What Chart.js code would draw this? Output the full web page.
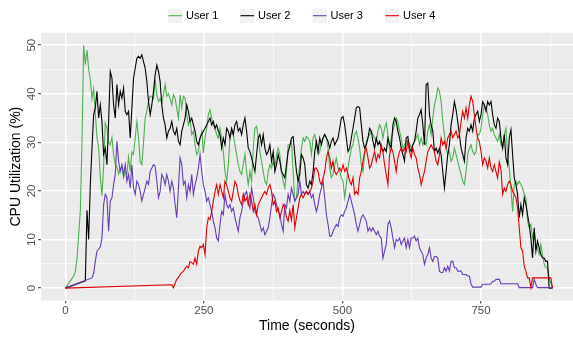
<!DOCTYPE html>
<html><head><meta charset="utf-8">
<script src="https://cdn.jsdelivr.net/npm/chart.js@4/dist/chart.umd.min.js"></script>
<style>html,body{margin:0;padding:0;background:#fff;overflow:hidden}canvas{display:block}</style>
</head><body>
<canvas id="c" width="573" height="339"></canvas>
<script>
const _ = null;
// sample times (seconds)
const times = [
0,3,6,9,12,15,18,21,24,27,
30,33,36,39,42,45,48,51,54,57,
60,63,66,69,72,75,78,81,84,87,
90,93,96,99,102,105,108,111,114,117,
120,123,126,129,132,135,138,141,144,147,
150,153,156,159,162,165,168,171,174,177,
180,183,186,189,192,195,198,201,204,207,
210,213,216,219,222,225,228,231,234,237,
240,243,246,249,252,255,258,261,264,267,
270,273,276,279,282,285,288,291,294,297,
300,303,306,309,312,315,318,321,324,327,
330,333,336,339,342,345,348,351,354,357,
360,363,366,369,372,375,378,381,384,387,
390,393,396,399,402,405,408,411,414,417,
420,423,426,429,432,435,438,441,444,447,
450,453,456,459,462,465,468,471,474,477,
480,483,486,489,492,495,498,501,504,507,
510,513,516,519,522,525,528,531,534,537,
540,543,546,549,552,555,558,561,564,567,
570,573,576,579,582,585,588,591,594,597,
600,603,606,609,612,615,618,621,624,627,
630,633,636,639,642,645,648,651,654,657,
660,663,666,669,672,675,678,681,684,687,
690,693,696,699,702,705,708,711,714,717,
720,723,726,729,732,735,738,741,744,747,
750,753,756,759,762,765,768,771,774,777,
780,783,786,789,792,795,798,801,804,807,
810,813,816,819,822,825,828,831,834,837,
840,843,846,849,852,855,858,861,864,867,
870,873,876,879];

const user1 = [
0,0.5,1,1.5,2,2.5,3.5,6,11,16,
30,50,46,49,45,43,39,41,36,31,
29,23,19,25,34,33,30,29.5,31,27.5,
25.5,25,23.5,24.5,25,22.7,24,23.5,27,24,
28,27.5,31,34.3,31,26,25.4,30,35,36.4,
38.4,39.5,39.5,39,43,39.8,38.4,39,38,39.8,
41.9,39.5,40,39,37.7,39.8,39.1,37,35,39.8,
37.1,39.5,39.1,35.7,33.6,34.7,31.6,32.3,29.5,27.5,
28.1,30.9,32.3,27.8,30.9,32.9,35.7,36.7,35,33.6,
32.9,31.6,30.9,32.9,30.9,28.1,24,22,25.4,30.9,
32.3,31.6,29.5,27.5,25.4,24,23.4,25.4,27.5,24,
21.3,24,22,28.8,32.9,33.3,30.9,28.1,26.1,24,
22,21.3,24,25.4,24.7,26.1,24.7,27.5,28.8,27.5,
24,22,20.6,24,29.5,29.5,30.2,24,17.9,18.6,
22.7,25.4,28.8,30.9,30.2,31.2,30.9,30.2,27.5,30.9,
31.6,29.5,27.5,28.1,30.2,30.9,31.6,30.9,28.8,24.7,
22.7,23.4,25.4,26.8,24.7,24,22.7,22,18.6,21.3,
24.7,26.8,28.8,29.5,31.6,32.3,30.9,28.8,25.4,24,
27.5,30.2,30.9,31.6,32.3,31.6,30.9,30.2,32.3,33.6,
32.9,30.9,32.9,34,31.6,28.8,30.9,32.3,33.6,35,
34.3,32.3,30.9,28.8,29.5,30.2,30.2,29.8,28.8,29.5,
30.2,30.9,31.6,29.5,30.9,29.5,30.2,29.5,32.3,33.6,
31.6,35,37.7,39.1,41.2,40.5,38.4,34.3,31.6,28.8,
27.5,28.1,26.1,26.8,28.8,27.5,26.1,24.7,23.4,22,
21.3,24,27.5,28.8,29.5,28.1,27.5,28.1,31.6,31.6,
32.9,35.7,37.7,37.1,35.7,33.6,32.3,32.9,31.6,30.9,
30.2,31.6,29.5,28.8,31.6,32.9,27.5,24.7,20.6,15.8,
21.3,22,21.3,22,21.3,20.6,19.3,18.6,13.8,12.4,
13.1,10.3,11.7,9,8.3,6.9,9,6.9,4.9,4.2,
4.2,2.1,1,0];

const user2 = [
0,_,_,_,_,_,_,_,_,_,
_,_,1.5,16,10,21.3,28.8,35.7,37.1,40.5,
35,37.7,34.3,27.5,28.8,25.4,34.3,44.6,43.2,37.7,
35,41.9,37.7,40.5,39.1,41.2,36.4,35.7,36.4,30.9,
37.1,43.2,45.3,47.3,47.7,47.3,48,46.6,45.3,42.5,
38.4,35.7,37.7,40.5,43.9,45.9,44.6,42.5,37.7,35,
33.6,30.9,32.3,32.9,34.3,32.3,31.6,32.9,30.2,29.5,
32.3,33.6,35,37.7,36.4,34.3,35,33.6,32.3,30.2,
29.5,30.9,31.6,32.3,32.9,33.6,34.3,35,33.6,34.3,
32.9,33.6,32.3,31.6,28.8,30.9,29.5,32.9,32.3,30.9,
32.9,31.6,33.6,34.3,32.3,32.9,31.6,33.6,35,32.3,
28.8,28.1,26.8,25.4,24,27.5,30.9,31.6,29.5,31.6,
28.8,27.5,28.1,29.5,26.1,28.1,24,25.4,27.5,26.1,
24,23.4,22.7,25.4,28.1,29.2,30.9,31.2,27.5,24,
22,23.4,27.5,26.8,25.4,21.3,20.6,22,21.3,24,
28.1,30.2,28.1,30.9,29.5,30.9,31.6,30.9,30.2,28.8,
30.2,30.9,29.5,30.2,30.9,32.9,35,35.3,33.6,30.9,
28.1,28.8,30.9,32.9,35,37.1,37.4,37.1,33.6,30.2,
28.8,29.5,30.9,32.9,32.3,30.2,28.8,30.9,29.5,30.2,
28.8,28.1,28.8,28.1,30.9,29.5,28.8,33.6,35,34.3,
32.3,30.9,28.8,27.5,26.1,30.9,31.2,28.8,28.1,29.5,
30.2,32.3,35,35.7,36.7,33.6,29.5,41.9,42.2,35.7,
33.6,32.3,28.1,28.8,27.8,28.8,27.5,24,20.6,24,
27.5,29.5,33.6,35.7,38.4,36.7,34.3,31.6,28.8,27.5,
26.1,30.9,32.9,32.3,33.6,32.3,35,35.7,36.4,34.3,
35.7,38.4,37.7,36.4,38.4,37.7,38.4,35.7,33.6,32.9,
35,34.3,30.9,28.8,31.6,26.8,25.4,30.9,32.6,27.5,
22.7,21.3,19.3,14.5,17.2,15.1,18.6,17.2,15.1,13.1,
10.3,6.2,12.4,7.6,9.7,8.3,6.9,6.2,6.2,5.5,
5.5,0,0,0];

const user3 = [
0,_,_,_,_,_,_,_,_,_,
_,_,_,_,_,_,2.1,3,5.5,7.6,
8,8.5,10.3,17.2,19.3,18.6,11.7,17.9,18.6,21.3,
23.4,30.2,26.1,24,25.4,23.4,25.4,22,23.4,20.6,
25.4,20.6,19.3,22,21.3,19.9,17.9,19.3,20.6,22,
21.3,24,24.7,25.4,25.1,22,18.6,19.9,23.4,22.7,
21.3,23.4,22,19.9,22,20.6,17.2,14.5,20.6,26.8,
25.4,21.3,22,18.6,21.3,19.9,23.4,19.3,21.3,22.7,
24.7,27.5,24,21.3,19.9,17.9,18.6,17.2,15.8,13.8,
12.4,10.3,9.7,13.1,15.8,15.1,19.3,17.2,16.5,17.2,
15.8,16.5,14.5,13.1,11.7,14.5,15.8,17.9,19.3,19.9,
17.9,16.5,20.6,18.6,15.8,15.1,14.5,13.1,11.7,12.4,
11,11.7,12.4,14.5,17.2,19.3,18.6,17.2,15.8,15.1,
13.1,11.7,17.2,16.5,19.3,17.9,20.6,19.3,17.9,18.6,
19.3,22,19.3,19.9,19.3,19.9,19.3,19.9,18.6,19.3,
17.2,15.8,17.2,19.3,20.6,22,18.6,15.1,13.1,10.7,
10.7,11.7,12.4,13.1,12.7,14.5,15.1,14.8,15.8,16.5,
17.9,19.3,17.9,16.5,15.1,13.1,11.7,13.1,14.5,15.1,
14.5,13.8,11.7,12.4,11.7,12.4,11.7,11,11.7,10.7,
10.3,6.2,7.6,9,13.1,13.8,12.4,10.3,8.3,10,
9.7,10.3,9,9.7,10.3,8.3,10,8.3,10.3,10.3,
10.7,9.7,10.3,8.3,7.6,6.9,4.9,6.2,6.9,8.3,
6.2,5.5,6.5,6.5,6.2,3.5,3.2,3.2,4.2,3.5,
4.5,3.5,5.5,5.5,4.2,4.2,3.5,3.5,3.5,2.8,
2.8,2.8,2.5,2.5,0.8,0.2,0.2,0.2,0.2,0.2,
0.2,0.8,0.8,0.8,0.8,0.8,0.9,1.4,1.4,1.8,
1.8,1.8,0.9,0.9,0.9,0.9,0.9,0.9,0.9,0.9,
0.9,0.9,0.9,0.1,0.1,0.1,0.1,0.1,0.1,0.1,
0.1,0.1,1.8,0.8,0.1,0.1,0.1,0.1,0.1,0.1,
0.1,0.1,0.1,0];

const user4 = [
0,_,_,_,_,_,_,_,_,_,
_,_,_,_,_,_,_,_,_,_,
_,_,_,_,_,_,_,_,_,_,
_,_,_,_,_,_,_,_,_,_,
_,_,_,_,_,_,_,_,_,_,
_,_,_,_,_,_,_,_,_,_,
_,_,_,_,0.7,0.1,1,1.8,2.2,2.8,
3.2,3.5,4,4.5,4.2,5.5,5.2,4.9,6.2,4.9,
7.6,8.6,8.3,9,6.9,12.4,14.5,14.1,15.8,17.9,
19.9,21.3,19.3,21.3,19.9,18.6,22,21.3,19.9,18.6,
17.9,19.9,22,21.3,19.3,17.9,17.2,19.3,17.9,18.6,
17.2,19.3,17.9,15.8,17.2,15.1,17.2,17.9,18.6,19.3,
19.9,19.3,20.6,21.3,19.9,17.2,17.9,15.8,16.5,14.5,
15.8,17.2,16.5,14.5,13.8,16,14,17.2,12.4,14.5,
16.5,18.6,19.3,18.6,19.3,19.9,19.3,19.9,20.6,22,
24.7,24.7,24,22,21.3,22.7,24,26.8,28.1,26.8,
24.7,26.1,24,23.4,24,24.7,24,25.4,24,24.7,
23.4,22,21.3,22.7,19.3,19.9,19.3,22.7,24,26.1,
28.1,28.8,26.8,24.7,25.4,26.8,28.1,26.1,27.5,26.8,
29.5,28.1,25.4,23.4,21.3,27.5,28.8,28.1,26.1,24,
26.8,28.1,28.8,28.1,28.8,28.1,30.2,28.1,26.8,28.8,
27.5,26.8,24.7,23.4,21.3,22.7,24,26.1,28.1,28.8,
29.5,28.8,28.1,26.1,25.4,27.5,30.9,29.5,30.2,28.8,
30.9,31.6,32.3,30.9,31.6,32.3,30.9,31.6,34.3,36.4,
35,37.1,35,37.7,39.5,38.4,35.7,32.9,30.9,30.2,
28.1,25.4,26.8,26.1,24.7,26.8,24.7,24,25.4,24,
22.7,26,24.5,19.3,20.6,19.9,21.3,22,21.3,19.9,
19.3,18.6,16.5,12.4,8.3,7.6,4.5,3.5,2.1,2.1,
0.1,2.1,2.1,2.1,2.1,2.1,2.1,2.1,2.1,2.1,
2.1,2.1,2.1,0];

const seriesNames = ['User 1', 'User 2', 'User 3', 'User 4'];
const seriesColors = ['#4CAF50', '#000000', '#673AB7', '#DD0000'];
const xTickLabels = [0, 250, 500, 750];
const yTickLabels = [0, 10, 20, 30, 40, 50];

const FONT = '"Liberation Sans", Arial, Helvetica, sans-serif';
Chart.defaults.font.family = FONT;

function toPoints(vals) {
  const out = [];
  vals.forEach((v, i) => { if (v !== null) out.push({ x: times[i], y: v }); });
  return out;
}
const allSeries = [user1, user2, user3, user4];
const datasets = allSeries.map((vals, i) => ({
  label: seriesNames[i],
  data: toPoints(vals),
  borderColor: seriesColors[i],
  backgroundColor: seriesColors[i],
  borderWidth: 1.1,
  pointRadius: 0,
  pointHoverRadius: 0,
  tension: 0,
  fill: false,
  order: 3 - i
}));

const panelBg = {
  id: 'panelBg',
  beforeDraw(chart) {
    const { ctx, chartArea: a } = chart;
    ctx.save();
    ctx.fillStyle = '#EBEBEB';
    ctx.fillRect(a.left, a.top, a.right - a.left, a.bottom - a.top);
    ctx.restore();
  }
};

const ggLegend = {
  id: 'ggLegend',
  afterDraw(chart) {
    const ctx = chart.ctx;
    ctx.save();
    ctx.font = '11px ' + FONT;
    const keyW = 14.5, keyH = 14.5, gap = 3.5, cy = 15.7;
    const keyX = [168, 240, 312.5, 385];
    seriesNames.forEach((name, i) => {
      const x = keyX[i];
      ctx.fillStyle = '#F2F2F2';
      ctx.fillRect(x, cy - keyH / 2, keyW, keyH);
      ctx.strokeStyle = seriesColors[i];
      ctx.lineWidth = 1.1;
      ctx.beginPath();
      ctx.moveTo(x + 0.5, cy);
      ctx.lineTo(x + keyW - 0.5, cy);
      ctx.stroke();
      ctx.fillStyle = '#000000';
      ctx.textAlign = 'left';
      ctx.textBaseline = 'middle';
      ctx.fillText(name, x + keyW + gap, cy);
    });
    ctx.restore();
  }
};

const isMajorX = c => c.tick && xTickLabels.includes(c.tick.value);
const isMajorY = c => c.tick && yTickLabels.includes(c.tick.value);

new Chart(document.getElementById('c'), {
  type: 'line',
  data: { datasets },
  options: {
    responsive: false,
    animation: false,
    devicePixelRatio: 1,
    layout: { padding: { top: 32.8, left: 0, right: 0, bottom: 0 } },
    plugins: { legend: { display: false }, tooltip: { enabled: false } },
    scales: {
      x: {
        type: 'linear',
        min: -44,
        max: 916,
        afterFit(s) { s.height = 38.5; },
        ticks: {
          stepSize: 125, includeBounds: false, autoSkip: false, maxRotation: 0,
          padding: 0, color: '#4D4D4D', font: { family: FONT, size: 11.5 },
          callback: v => xTickLabels.includes(v) ? String(v) : ''
        },
        grid: {
          color: '#FFFFFF',
          lineWidth: c => isMajorX(c) ? 1.4 : 0.7,
          tickLength: 3, tickWidth: 1,
          tickColor: c => isMajorX(c) ? '#333333' : 'rgba(0,0,0,0)'
        },
        border: { display: false },
        title: { display: true, text: 'Time (seconds)', color: '#000000', font: { family: FONT, size: 14 }, padding: { top: 0, bottom: 4 } }
      },
      y: {
        type: 'linear',
        min: -2.55,
        max: 52.55,
        afterFit(s) { s.width = 41; },
        ticks: {
          stepSize: 5, includeBounds: false, autoSkip: false,
          minRotation: 90, maxRotation: 90, crossAlign: 'center',
          padding: 0, color: '#4D4D4D', font: { family: FONT, size: 11.5 },
          callback: v => yTickLabels.includes(v) ? String(v) : ''
        },
        grid: {
          color: '#FFFFFF',
          lineWidth: c => isMajorY(c) ? 1.4 : 0.7,
          tickLength: 3, tickWidth: 1,
          tickColor: c => isMajorY(c) ? '#333333' : 'rgba(0,0,0,0)'
        },
        border: { display: false },
        title: { display: true, text: 'CPU Utilization (%)', color: '#000000', font: { family: FONT, size: 14 }, padding: { top: 7.6, bottom: 0 } }
      }
    }
  },
  plugins: [panelBg, ggLegend]
});
</script>
</body></html>
